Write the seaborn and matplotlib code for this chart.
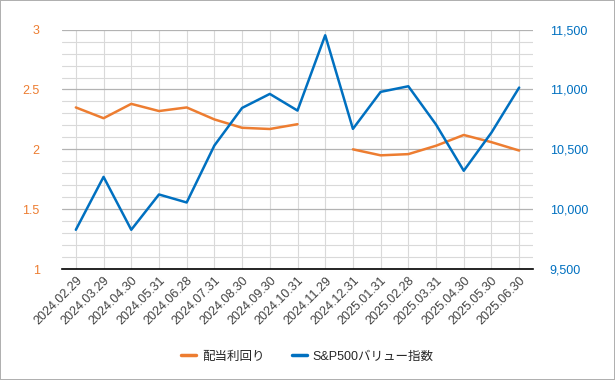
import matplotlib
matplotlib.use("Agg")
import matplotlib.pyplot as plt
from matplotlib.ticker import MultipleLocator, FuncFormatter
from matplotlib.lines import Line2D
import numpy as np
import pandas as pd
import seaborn as sns

# データ
dates = [
    "2024.02.29", "2024.03.29", "2024.04.30", "2024.05.31", "2024.06.28",
    "2024.07.31", "2024.08.30", "2024.09.30", "2024.10.31", "2024.11.29",
    "2024.12.31", "2025.01.31", "2025.02.28", "2025.03.31", "2025.04.30",
    "2025.05.30", "2025.06.30",
]
dividend_yield = [
    2.35, 2.26, 2.38, 2.32, 2.35, 2.25, 2.18, 2.17, 2.21, np.nan,
    2.00, 1.95, 1.96, 2.03, 2.12, 2.06, 1.99,
]
sp500_value = [
    9828, 10270, 9828, 10123, 10056, 10532, 10846, 10963, 10824, 11453,
    10671, 10980, 11027, 10707, 10321, 10640, 11016,
]

ORANGE = "#ED7D31"
BLUE = "#0070C0"

sns.set_style("white")
plt.rcParams["font.family"] = ["Liberation Sans", "Noto Sans CJK JP", "DejaVu Sans"]

df = pd.DataFrame({
    "pos": np.arange(len(dates)),
    "yield": dividend_yield,
    "value": sp500_value,
})

fig = plt.figure(figsize=(6.15, 3.8), dpi=100)
fig.patch.set_edgecolor("#b0b0b0")
fig.patch.set_linewidth(1.2)
ax = fig.add_axes([0.1008, 0.292, 0.7659, 0.630])
ax2 = ax.twinx()

# 左軸: 配当利回り（欠損値で線を切る）
ax.plot(df["pos"], df["yield"], color=ORANGE, linewidth=1.8, zorder=3)
sns.lineplot(data=df, x="pos", y="value", ax=ax2, color=BLUE, linewidth=1.8)

ax.set_xlim(-0.5, len(dates) - 0.5)
ax.set_ylim(1, 3)
ax2.set_ylim(9500, 11500)

ax.yaxis.set_major_locator(MultipleLocator(0.5))
ax.yaxis.set_minor_locator(MultipleLocator(0.1))
ax.yaxis.set_major_formatter(FuncFormatter(lambda v, p: f"{v:g}"))
ax2.yaxis.set_major_locator(MultipleLocator(500))
ax2.yaxis.set_major_formatter(FuncFormatter(lambda v, p: f"{v:,.0f}"))

ax.set_xticks(df["pos"])
ax.set_xticklabels(dates, rotation=45, ha="right", rotation_mode="anchor",
                   fontsize=9, color="#404040")
ax.tick_params(axis="x", length=0, pad=4)
ax.tick_params(axis="y", which="both", length=0, labelsize=9,
               labelcolor=ORANGE, pad=16)
ax2.tick_params(axis="y", length=0, labelsize=9, labelcolor=BLUE, pad=12)

ax.grid(True, which="major", axis="y", color="#b3b3b3", linewidth=0.9)
ax.grid(True, which="minor", axis="y", color="#d9d9d9", linewidth=0.8)
ax.grid(True, which="major", axis="x", color="#d9d9d9", linewidth=0.8)
ax.set_axisbelow(True)

for a in (ax, ax2):
    for side in ("top", "right", "left"):
        a.spines[side].set_visible(False)
    a.set_xlabel("")
    a.set_ylabel("")
ax2.spines["bottom"].set_visible(False)
ax.spines["bottom"].set_color("black")
ax.spines["bottom"].set_linewidth(1.2)

handles = [
    Line2D([0], [0], color=ORANGE, linewidth=2.5, label="配当利回り"),
    Line2D([0], [0], color=BLUE, linewidth=2.5, label="S&P500バリュー指数"),
]
fig.legend(handles=handles, loc="center", bbox_to_anchor=(0.5, 0.061), ncol=2,
           frameon=False, fontsize=9, handlelength=1.2, handletextpad=0.45,
           columnspacing=2.2)

fig.savefig("out.png", dpi=100)
